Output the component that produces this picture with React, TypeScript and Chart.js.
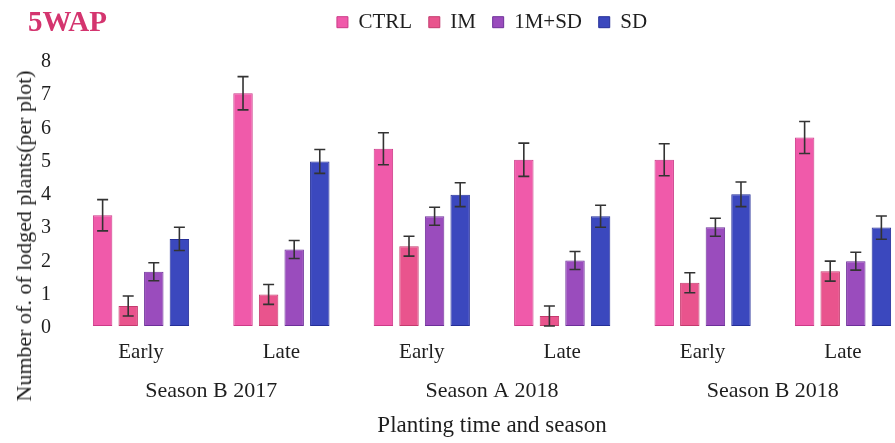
import { useEffect, useRef } from "react";
import { Chart, registerables } from "chart.js";

Chart.register(...registerables);

// Planting time (inner axis) and season (outer axis)
const timings = ["Early", "Late", "Early", "Late", "Early", "Late"];
const seasons = ["Season B 2017", "Season A 2018", "Season B 2018"];
const seasonTickPositions = [0.5, 2.5, 4.5];

// Treatments
const seriesNames = ["CTRL", "IM", "1M+SD", "SD"];

// Mean number of lodged plants per plot, with standard error
const ctrlValues = [3.33, 7.0, 5.33, 5.0, 5.0, 5.67];
const ctrlErrors = [0.47, 0.5, 0.48, 0.5, 0.48, 0.48];
const imValues = [0.6, 0.95, 2.4, 0.3, 1.3, 1.65];
const imErrors = [0.3, 0.3, 0.3, 0.3, 0.3, 0.3];
const imSdValues = [1.63, 2.3, 3.3, 1.97, 2.97, 1.95];
const imSdErrors = [0.27, 0.27, 0.27, 0.27, 0.27, 0.27];
const sdValues = [2.62, 4.95, 3.95, 3.3, 3.96, 2.96];
const sdErrors = [0.35, 0.36, 0.36, 0.33, 0.37, 0.35];

const yTickValues = [0, 1, 2, 3, 4, 5, 6, 7, 8];
const Y_MAX = 8.52;

const fillColors = ["#f05aaa", "#e9548d", "#9a4cbd", "#3b48be"];
const edgeColors = ["#cc3a88", "#c43a6e", "#6e309a", "#252f98"];

const SERIF = "'Liberation Serif', 'Times New Roman', serif";
const TEXT = "#1e1e1e";

const errorBarPlugin = {
  id: "errorBars",
  afterDatasetsDraw(chart: any) {
    const { ctx } = chart;
    const yScale = chart.scales.y;
    ctx.save();
    ctx.strokeStyle = "#333333";
    ctx.lineWidth = 1.6;
    chart.data.datasets.forEach((ds: any, di: number) => {
      const meta = chart.getDatasetMeta(di);
      meta.data.forEach((bar: any, i: number) => {
        const v = ds.data[i];
        const e = ds.errors[i];
        const top = yScale.getPixelForValue(v + e);
        const bottom = yScale.getPixelForValue(Math.max(v - e, 0));
        const x = bar.x;
        const cap = 5.5;
        ctx.beginPath();
        ctx.moveTo(x, top);
        ctx.lineTo(x, bottom);
        ctx.moveTo(x - cap, top);
        ctx.lineTo(x + cap, top);
        ctx.moveTo(x - cap, bottom);
        ctx.lineTo(x + cap, bottom);
        ctx.stroke();
      });
    });
    ctx.restore();
  },
};

export default function App() {
  const canvasRef = useRef<HTMLCanvasElement | null>(null);

  useEffect(() => {
    if (!canvasRef.current) return;
    const valueSets = [ctrlValues, imValues, imSdValues, sdValues];
    const errorSets = [ctrlErrors, imErrors, imSdErrors, sdErrors];

    const chart = new Chart(canvasRef.current, {
      type: "bar",
      data: {
        labels: timings,
        datasets: seriesNames.map((name, k) => ({
          label: name,
          data: valueSets[k],
          errors: errorSets[k],
          backgroundColor: fillColors[k],
          borderColor: edgeColors[k],
          borderWidth: 1,
          borderSkipped: false,
          categoryPercentage: 0.729,
          barPercentage: 0.76,
          xAxisID: "x",
          yAxisID: "y",
          clip: false,
        })) as any,
      },
      options: {
        responsive: false,
        animation: false,
        layout: { padding: { left: 41, right: 52, top: -5, bottom: 3.6 } },
        plugins: {
          title: { display: false },
          tooltip: { enabled: false },
          legend: {
            position: "top",
            align: "center",
            fullSize: false,
            labels: {
              boxWidth: 11,
              boxHeight: 11,
              padding: 16.7,
              color: TEXT,
              font: { family: SERIF, size: 21 },
            },
          },
        },
        scales: {
          x: {
            type: "category",
            axis: "x",
            position: "bottom",
            offset: false,
            grid: { display: false, drawTicks: false },
            border: { display: false },
            ticks: {
              padding: 14,
              color: TEXT,
              autoSkip: false,
              maxRotation: 0,
              font: { family: SERIF, size: 21 },
            },
            afterFit: (s: any) => {
              s.height = 40;
            },
          },
          x2: {
            type: "linear",
            axis: "x",
            position: "bottom",
            weight: 1,
            offset: false,
            min: 0,
            max: timings.length - 1,
            grid: { display: false, drawTicks: false, offset: false },
            border: { display: false },
            afterBuildTicks: (s: any) => {
              s.ticks = seasonTickPositions.map((value) => ({ value }));
            },
            ticks: {
              padding: 12,
              color: TEXT,
              autoSkip: false,
              maxRotation: 0,
              font: { family: SERIF, size: 22 },
              callback: (value: any) => seasons[Math.floor(Number(value) / 2)],
            },
            title: {
              display: true,
              text: "Planting time and season",
              color: TEXT,
              font: { family: SERIF, size: 23 },
              padding: { top: 0, bottom: 0 },
            },
            afterFit: (s: any) => {
              s.height = 73.4;
            },
          },
          y: {
            type: "linear",
            position: "left",
            min: 0,
            max: Y_MAX,
            grid: { display: false, drawTicks: false },
            border: { display: false },
            afterBuildTicks: (s: any) => {
              s.ticks = yTickValues.map((value) => ({ value }));
            },
            ticks: {
              padding: 3,
              crossAlign: "far",
              labelOffset: 2,
              color: TEXT,
              font: { family: SERIF, size: 20 },
            },
            afterFit: (s: any) => {
              s.width = 100;
            },
          },
        },
      } as any,
      plugins: [errorBarPlugin],
    });

    return () => chart.destroy();
  }, []);

  return (
    <div
      style={{
        position: "fixed",
        left: 0,
        top: 0,
        width: 895,
        height: 443,
        background: "#ffffff",
        overflow: "hidden",
      }}
    >
      <canvas ref={canvasRef} width={895} height={443} style={{ display: "block" }} />
      <div
        style={{
          position: "absolute",
          left: 28,
          top: 7,
          fontFamily: SERIF,
          fontWeight: "bold",
          fontSize: 29,
          lineHeight: 1,
          color: "#d4356f",
          whiteSpace: "nowrap",
        }}
      >
        5WAP
      </div>
      <div
        style={{
          position: "absolute",
          left: 24,
          top: 236,
          transform: "translate(-50%, -50%) rotate(-90deg)",
          fontFamily: SERIF,
          fontSize: 22,
          lineHeight: 1,
          color: TEXT,
          whiteSpace: "nowrap",
        }}
      >
        Number of. of lodged plants(per plot)
      </div>
    </div>
  );
}
